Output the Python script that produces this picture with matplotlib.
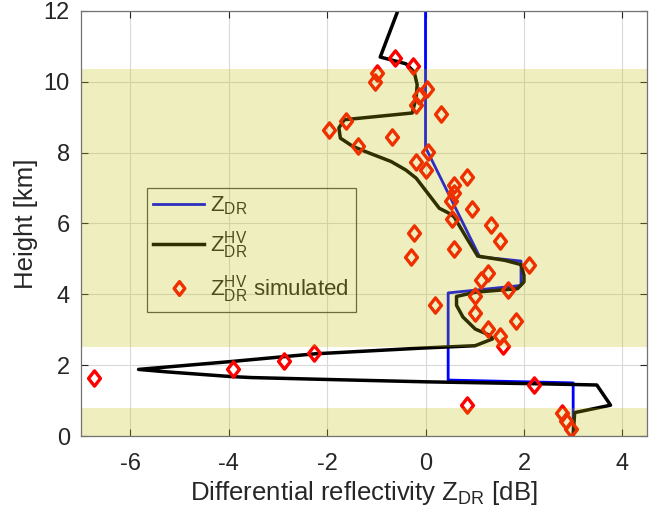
import matplotlib
matplotlib.use("Agg")
import matplotlib.pyplot as plt
from matplotlib.path import Path
import numpy as np

plt.rcParams['font.family'] = ['Liberation Sans', 'DejaVu Sans']
plt.rcParams['mathtext.fontset'] = 'custom'
plt.rcParams['mathtext.rm'] = 'Liberation Sans'
plt.rcParams['mathtext.it'] = 'Liberation Sans'

# ZDR profile (blue)
zdr_x = [0.0, 0.0, 1.10, 1.94, 1.94, 0.46, 0.46, 3.0, 3.0]
zdr_h = [12.0, 8.15, 5.06, 4.94, 4.25, 4.04, 1.58, 1.50, 0.0]

# ZDR^HV profile (black)
hv_x = [-0.55, -0.92, -0.40, -0.23, -0.17, -0.19, -0.27, -1.65, -1.76, -1.73, -1.48,
        -1.22, -0.70, -0.40, -0.19, 0.07, 0.28, 0.45, 0.58, 0.84, 1.06, 1.61, 1.94,
        2.00, 2.00, 1.87, 1.01, 0.63, 0.63, 0.76, 1.01, 1.31, 1.36, 1.01, -0.10,
        -2.25, -3.97, -5.83, -5.25, -3.97, -3.54, -1.82, 0.0, 2.47, 3.48, 3.76,
        3.03, 3.0]
hv_h = [12.05, 10.70, 10.51, 10.28, 9.92, 9.55, 9.12, 8.93, 8.70, 8.41, 8.18,
        8.03, 7.75, 7.51, 7.28, 6.81, 6.43, 6.31, 6.19, 5.58, 5.08, 4.96, 4.84,
        4.54, 4.35, 4.16, 4.06, 3.94, 3.69, 3.36, 3.02, 2.84, 2.74, 2.55, 2.48,
        2.32, 2.10, 1.88, 1.81, 1.68, 1.65, 1.59, 1.53, 1.47, 1.44, 0.87,
        0.66, 0.0]

# ZDR^HV simulated (diamonds)
sim_x = [-0.62, -0.26, -0.99, -1.02, 0.03, -0.13, -0.19, 0.31, -1.61, -1.97,
         -0.69, -1.37, 0.05, -0.19, 0.0, 0.84, 0.58, 0.57, 0.52, 0.95, 0.54,
         1.34, -0.23, 1.51, 0.58, -0.30, 2.10, 1.27, 1.12, 1.68, 1.01, 0.20,
         1.00, 1.83, 1.27, 1.51, 1.57, -2.27, -2.87, -3.92, -6.73, 2.20, 0.84,
         2.77, 2.86, 2.96]
sim_h = [10.68, 10.46, 10.25, 10.00, 9.81, 9.59, 9.34, 9.10, 8.88, 8.65,
         8.43, 8.19, 8.01, 7.75, 7.51, 7.31, 7.09, 6.87, 6.64, 6.41, 6.14,
         5.95, 5.72, 5.50, 5.29, 5.06, 4.82, 4.61, 4.40, 4.13, 3.94, 3.71,
         3.47, 3.24, 3.02, 2.82, 2.55, 2.34, 2.13, 1.89, 1.65, 1.44, 0.87,
         0.66, 0.43, 0.19]

# shaded height bands
bands = [(0.0, 0.8), (2.5, 10.35)]

xticks = [-6, -4, -2, 0, 2, 4]
yticks = [0, 2, 4, 6, 8, 10, 12]

fig = plt.figure(figsize=(6.6, 5.18), dpi=100)
ax = fig.add_axes([0.1227, 0.1583, 0.8576, 0.8205])

diamond = Path([(0, 1), (0.78, 0), (0, -1), (-0.78, 0), (0, 1)],
               [Path.MOVETO, Path.LINETO, Path.LINETO, Path.LINETO, Path.CLOSEPOLY])

l1, = ax.plot(zdr_x, zdr_h, color=(0, 0, 1), lw=2.0, zorder=2, label=r'$\mathregular{Z_{DR}}$')
l2, = ax.plot(hv_x, hv_h, color='black', lw=2.5, zorder=2.1, label=r'$\mathregular{Z_{DR}^{HV}}$')
l3, = ax.plot(sim_x, sim_h, ls='none', marker=diamond, ms=11, mfc='none', mec=(1, 0, 0),
              mew=2.4, zorder=2.2, label=r'$\mathregular{Z_{DR}^{HV}}$ simulated')

for lo, hi in bands:
    ax.axhspan(lo, hi, facecolor=(0.75, 0.75, 0), alpha=0.25, edgecolor='none', zorder=3)

ax.set_xlim(-7, 4.5)
ax.set_ylim(0, 12)
ax.set_xticks(xticks)
ax.set_yticks(yticks)
ax.set_xticklabels([str(t) for t in xticks])
ax.grid(True, color=(0.85, 0.85, 0.85), lw=0.8, zorder=0.5)
ax.set_axisbelow(True)
ax.tick_params(direction='in', top=True, right=True, length=5, width=0.8,
               colors=(0.15, 0.15, 0.15), labelsize=17)
ax.tick_params(axis='x', pad=12)
ax.tick_params(axis='y', pad=8)
for s in ax.spines.values():
    s.set_color((0.45, 0.45, 0.45))
    s.set_linewidth(0.9)
    s.set_zorder(4)

ax.set_xlabel(r'Differential reflectivity $\mathregular{Z_{DR}}$ [dB]', fontsize=18.5,
              color=(0.15, 0.15, 0.15), labelpad=3)
ax.set_ylabel('Height [km]', fontsize=18.5, color=(0.15, 0.15, 0.15), labelpad=4)

leg = ax.legend(handles=[l1, l2, l3], loc='upper left', bbox_to_anchor=(0.116, 0.584),
                borderaxespad=0, fontsize=16, frameon=True, fancybox=False,
                handlelength=2.3, handletextpad=0.25, labelspacing=0.55,
                borderpad=0.3, numpoints=1, markerscale=0.9)
leg.get_frame().set_facecolor('none')
leg.get_frame().set_edgecolor((0.15, 0.15, 0.15))
leg.get_frame().set_linewidth(0.9)
for t in leg.get_texts():
    t.set_color((0.15, 0.15, 0.15))
leg.set_zorder(2.5)

fig.savefig('out.png', dpi=100)
